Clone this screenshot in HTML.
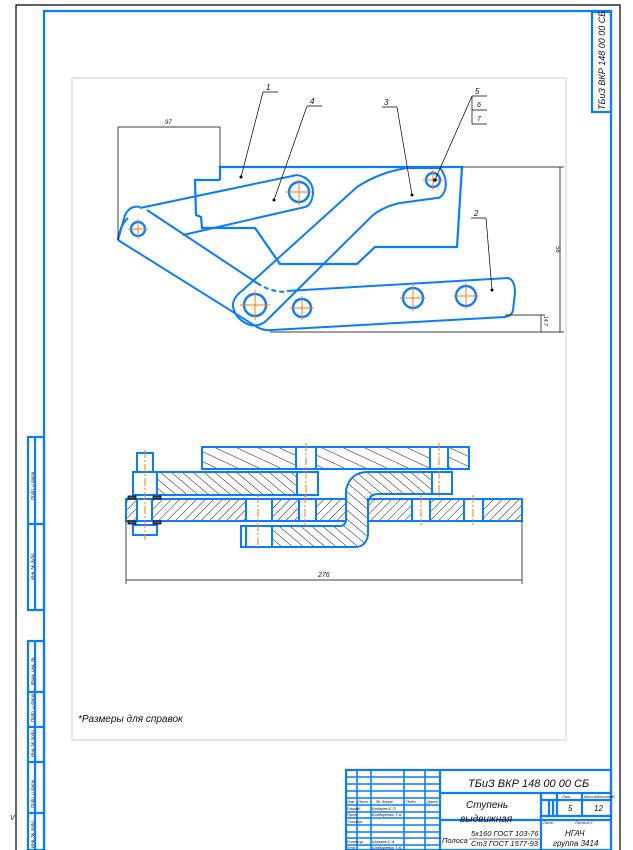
<!DOCTYPE html>
<html><head><meta charset="utf-8"><style>
html,body{margin:0;padding:0;background:#fff}
svg{display:block}
text{font-family:"Liberation Sans","DejaVu Sans",sans-serif;font-style:italic;fill:#111}
</style></head><body>
<svg width="633" height="850" viewBox="0 0 633 850" xmlns="http://www.w3.org/2000/svg">
<defs>
<pattern id="h1" width="6" height="6" patternUnits="userSpaceOnUse" patternTransform="rotate(45)">
<line x1="0" y1="0" x2="0" y2="6" stroke="#000" stroke-width="0.9"/></pattern>
<pattern id="h2" width="7" height="7" patternUnits="userSpaceOnUse" patternTransform="rotate(-50)">
<line x1="0" y1="0" x2="0" y2="7" stroke="#000" stroke-width="0.9"/></pattern>
<pattern id="h3" width="9" height="9" patternUnits="userSpaceOnUse" patternTransform="rotate(-65)">
<line x1="0" y1="0" x2="0" y2="9" stroke="#000" stroke-width="0.9"/></pattern>
</defs>
<polyline points="16,850 16,5 620,5 620,850" fill="none" stroke="#000" stroke-width="1.2"/>
<rect x="72" y="78" width="494" height="662" fill="none" stroke="#ccc" stroke-width="1"/>
<g stroke="#0a7cff" stroke-width="2.2" fill="none">
<polyline points="44,850 44,11 611,11 611,850"/>
<rect x="592" y="12" width="19" height="100"/>
<rect x="28" y="437" width="16" height="173"/><line x1="28" y1="524" x2="44" y2="524"/><line x1="35" y1="437" x2="35" y2="610"/>
<rect x="28" y="641" width="16" height="209"/><line x1="35" y1="641" x2="35" y2="850"/>
<line x1="28" y1="692" x2="44" y2="692"/><line x1="28" y1="727" x2="44" y2="727"/><line x1="28" y1="762" x2="44" y2="762"/><line x1="28" y1="813" x2="44" y2="813"/>
<rect x="346" y="770" width="265" height="80"/>
<line x1="440" y1="770" x2="440" y2="850"/>
<line x1="440" y1="793" x2="611" y2="793"/>
<line x1="440" y1="820" x2="611" y2="820"/>
<line x1="541" y1="793" x2="541" y2="850"/>
<line x1="541" y1="800" x2="611" y2="800"/>
<line x1="541" y1="816" x2="611" y2="816"/>
<line x1="557" y1="793" x2="557" y2="816"/><line x1="582" y1="793" x2="582" y2="816"/>
<line x1="549" y1="800" x2="549" y2="816"/><line x1="553" y1="800" x2="553" y2="816"/>
<g stroke-width="1.6">
<line x1="357" y1="770" x2="357" y2="850"/><line x1="371" y1="770" x2="371" y2="850"/>
<line x1="404" y1="770" x2="404" y2="850"/><line x1="425" y1="770" x2="425" y2="850"/>
<line x1="346" y1="777" x2="440" y2="777"/><line x1="346" y1="784" x2="440" y2="784"/>
<line x1="346" y1="791" x2="440" y2="791"/><line x1="346" y1="798" x2="440" y2="798"/>
<line x1="346" y1="805" x2="440" y2="805"/><line x1="346" y1="812" x2="440" y2="812"/>
<line x1="346" y1="818" x2="440" y2="818"/><line x1="346" y1="825" x2="440" y2="825"/>
<line x1="346" y1="832" x2="440" y2="832"/><line x1="346" y1="838" x2="440" y2="838"/>
<line x1="346" y1="845" x2="440" y2="845"/>
</g>
</g>
<text x="468" y="787" font-size="11">ТБиЗ ВКР 148 00 00 СБ</text>
<text x="466" y="808" font-size="10">Ступень</text>
<text x="460" y="822" font-size="10">выдвижная</text>
<text x="442" y="843" font-size="7.5">Полоса</text>
<text x="471" y="836" font-size="7.5">5х160 ГОСТ 103-76</text>
<text x="471" y="846" font-size="7.5">Ст3 ГОСТ 1577-93</text>
<line x1="469" y1="839" x2="540" y2="839" stroke="#000" stroke-width="0.6"/>
<text x="565" y="836" font-size="8">НГАЧ</text>
<text x="553" y="846" font-size="8">группа 3414</text>
<text x="568" y="811" font-size="8">5</text>
<text x="594" y="811" font-size="8">12</text>
<g font-size="4">
<text x="562" y="798">Лит.</text><text x="584" y="798">Масса</text><text x="596" y="798">Масштаб</text>
<text x="543" y="824">Лист</text><text x="575" y="824">Листов 1</text>
<text x="347" y="803">Изм</text><text x="358" y="803">Лист</text><text x="376" y="803">№ докум.</text><text x="406" y="803">Подп.</text><text x="427" y="803">Дата</text>
<text x="347" y="810">Разраб.</text><text x="372" y="810">Бедарев Е.П.</text>
<text x="347" y="816">Пров.</text><text x="372" y="816">Бондаренко Т.А.</text>
<text x="347" y="823">Т.контр.</text>
<text x="347" y="843">Н.контр.</text><text x="372" y="843">Шипаев С.А.</text>
<text x="347" y="849">Утв.</text><text x="372" y="849">Бондаренко Т.А.</text>
</g>
<text x="0" y="0" font-size="9" transform="translate(605,110) rotate(-90)">ТБиЗ ВКР 148 00 00 СБ</text>
<g font-size="4.5">
<text transform="translate(34,500) rotate(-90)">Подп. и дата</text>
<text transform="translate(34,580) rotate(-90)">Инв. № дубл.</text>
<text transform="translate(34,685) rotate(-90)">Взам. инв. №</text>
<text transform="translate(34,722) rotate(-90)">Подп. и дата</text>
<text transform="translate(34,757) rotate(-90)">Инв. № подл.</text>
<text transform="translate(34,808) rotate(-90)">Подп. и дата</text>
<text transform="translate(34,848) rotate(-90)">Инв. № подл.</text>
</g>
<text x="10" y="820" font-size="7">V</text>

<g stroke="#0a7cff" fill="none" stroke-width="2">
<polyline stroke-width="2.2" points="220,180 220,167 462,167 457,247 375,247 357,264 280,264 255,228 202,228 201,217 196,215 195,180 220,180"/>
<path d="M140,208 L297,175 Q313,178 313,193 Q312,205 305,207 L183,235"/>
<path d="M118,240 L125,215 Q130,205 140,207"/>
<path d="M147,210 L257,283"/>
<path d="M257,283 Q270,292 287,292" stroke-dasharray="5,3"/>
<path d="M118,240 L257,327 Q264,331 272,330 L505,317"/>
<path d="M118,240 Q120,225 128,218"/>
<path d="M287,291 L508,278 Q515,280 515,293 L513,310 Q512,316 505,317"/>
<path d="M233,307 Q232,298 243,290 L357,187 Q380,172 407,168 L440,168 Q448,178 445,190 Q442,198 437,198 L400,203 Q385,206 373,215 L267,320 Q260,327 250,325 Q236,320 233,307 Z"/>
<line x1="280" y1="264" x2="300" y2="264" stroke-dasharray="4,3"/>
</g>
<g stroke="#0a7cff" fill="none" stroke-width="2.4">
<circle cx="138" cy="229" r="7"/>
<circle cx="299" cy="192" r="10"/>
<circle cx="433" cy="180" r="7"/>
<circle cx="255" cy="305" r="11"/>
<circle cx="302" cy="308" r="9"/>
<circle cx="413" cy="298" r="10"/>
<circle cx="466" cy="296" r="10"/>
</g>
<g stroke="#f08010" stroke-width="1">
<path d="M128,229h20M138,219v20M286,192h26M299,179v26M423,180h20M433,170v20M240,305h30M255,290v30M290,308h24M302,296v24M400,298h26M413,285v26M453,296h26M466,283v26"/>
</g>
<g stroke="#000" stroke-width="0.7" fill="none">
<path d="M118,240V127M220,167V127M118,127H220M462,167H564M560,167V332M270,332H564M505,315H545M541,315V332"/>
<path d="M263,92H278M263,92L241,177M307,106H322M307,106L274,200M382,107H397M397,107L412,195M472,96H487M472,110H487M472,124H487M472,96V124M472,96L435,180M471,218H486M486,218L492,290"/>
</g>
<g fill="#000"><circle cx="241" cy="177" r="1.5"/><circle cx="274" cy="200" r="1.5"/><circle cx="412" cy="195" r="1.5"/><circle cx="435" cy="180" r="1.8"/><circle cx="492" cy="290" r="1.5"/></g>
<g font-size="8">
<text x="165" y="124" font-size="6">97</text>
<text x="266" y="90">1</text><text x="310" y="104">4</text><text x="384" y="105">3</text>
<text x="475" y="94">5</text><text x="477" y="107" font-size="7">6</text><text x="477" y="121" font-size="7">7</text>
<text x="474" y="216">2</text>
<text transform="translate(556,246) rotate(90)" font-size="6">56</text>
<text transform="translate(544,316) rotate(90)" font-size="5">14,7</text>
</g>

<g stroke="#0a7cff" stroke-width="2">
<rect x="202" y="447" width="94" height="22" fill="url(#h3)"/>
<rect x="296" y="447" width="20" height="22" fill="#fff"/>
<rect x="316" y="447" width="114" height="22" fill="url(#h3)"/>
<rect x="430" y="447" width="18" height="22" fill="#fff"/>
<rect x="448" y="447" width="21" height="22" fill="url(#h3)"/>
<rect x="155" y="472" width="142" height="23" fill="url(#h2)"/>
<rect x="297" y="472" width="21" height="23" fill="#fff"/>
<rect x="126" y="499" width="120" height="22" fill="url(#h1)"/>
<rect x="246" y="499" width="26" height="22" fill="#fff"/>
<rect x="272" y="499" width="27" height="22" fill="url(#h1)"/>
<rect x="299" y="499" width="17" height="22" fill="#fff"/>
<rect x="316" y="499" width="30" height="22" fill="url(#h1)"/>
<rect x="368" y="499" width="44" height="22" fill="url(#h1)"/>
<rect x="412" y="499" width="18" height="22" fill="#fff"/>
<rect x="430" y="499" width="34" height="22" fill="url(#h1)"/>
<rect x="464" y="499" width="19" height="22" fill="#fff"/>
<rect x="483" y="499" width="39" height="22" fill="url(#h1)"/>
<path d="M241,526 H340 Q346,526 346,518 V490 Q350,472 368,472 H432 V494 H378 Q368,494 368,506 V535 Q366,547 355,547 H241 Z" fill="url(#h2)"/>
<rect x="241" y="526" width="5" height="21" fill="#fff"/>
<rect x="246" y="526" width="26" height="21" fill="#fff"/>
<rect x="432" y="472" width="20" height="22" fill="#fff"/>
<rect x="137" y="453" width="16" height="19" fill="#fff"/>
<rect x="133" y="472" width="24" height="23" fill="#fff"/>
<rect x="137" y="499" width="15" height="22" fill="#fff"/>
<rect x="133" y="525" width="24" height="10" fill="#fff"/>
</g>
<g stroke="#000" stroke-width="0.8" fill="#555"><rect x="128" y="496" width="8" height="3"/><rect x="153" y="496" width="8" height="3"/><rect x="128" y="521" width="8" height="3"/><rect x="153" y="521" width="8" height="3"/></g>
<g stroke="#f08010" stroke-width="1" stroke-dasharray="8,2,2,2">
<path d="M145,450V540M306,443V499M258,495V550M439,443V499M305,495V525M421,495V525M473,495V525"/>
</g>
<g stroke="#000" stroke-width="0.7"><path d="M126,521V584M522,521V584M126,580H522"/></g>
<text x="318" y="577" font-size="7">276</text>
<text x="78" y="722" font-size="10">*Размеры для справок</text>
</svg>
</body></html>
